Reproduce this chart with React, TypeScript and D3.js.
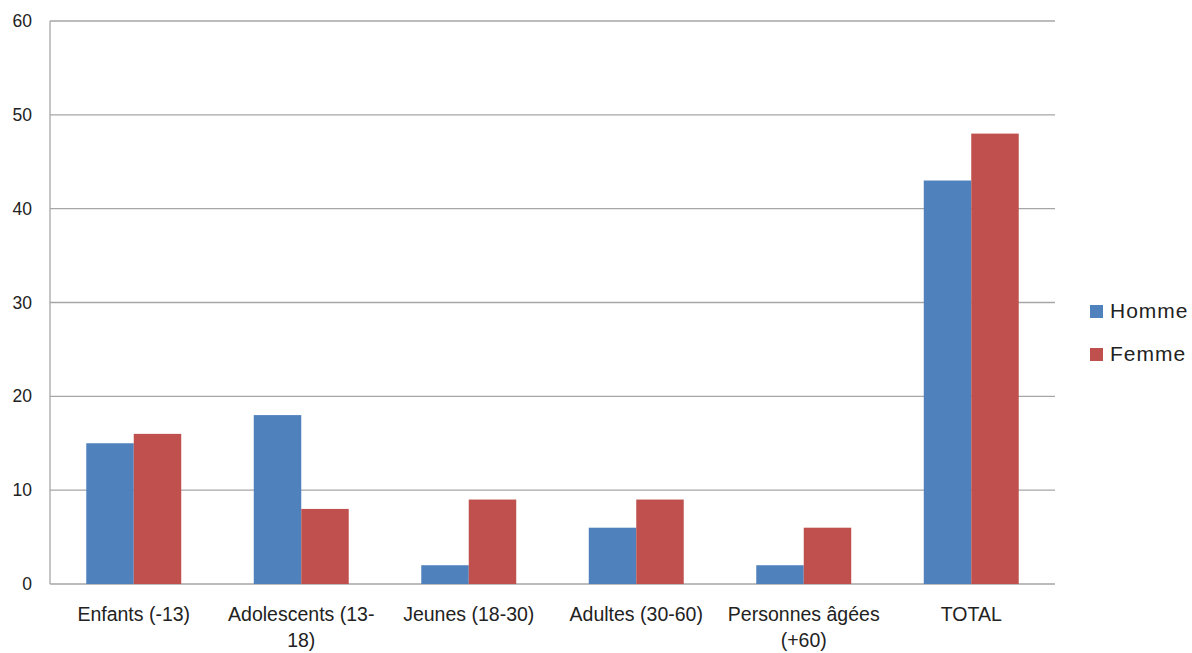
import React from "react";
import * as d3 from "d3";

// data
const categories = [
  ["Enfants (-13)"],
  ["Adolescents (13-", "18)"],
  ["Jeunes (18-30)"],
  ["Adultes (30-60)"],
  ["Personnes âgées", "(+60)"],
  ["TOTAL"],
];
const seriesNames = ["Homme", "Femme"];
const homme = [15, 18, 2, 6, 2, 43];
const femme = [16, 8, 9, 9, 6, 48];
const yTicks = [0, 10, 20, 30, 40, 50, 60];
const colors = ["#4F81BD", "#C0504D"];

const W = 1192;
const H = 653;
const plot = { left: 50, right: 1055, top: 21, bottom: 584 };
const font = "'Liberation Sans', Arial, sans-serif";

export default function App() {
  const keys = categories.map((c) => c.join(" "));
  const x = d3
    .scaleBand<string>()
    .domain(keys)
    .range([plot.left, plot.right])
    .paddingInner(0.433)
    .paddingOuter(0.2165);
  const x1 = d3.scaleBand<string>().domain(seriesNames).range([0, x.bandwidth()]);
  const y = d3.scaleLinear().domain([0, 60]).range([plot.bottom, plot.top]);
  const values = [homme, femme];

  return (
    <svg
      width={W}
      height={H}
      style={{ position: "absolute", left: 0, top: 0, background: "#fff" }}
      fontFamily={font}
    >
      {/* gridlines */}
      {yTicks.map((t) => (
        <line
          key={t}
          x1={plot.left}
          x2={plot.right}
          y1={y(t)}
          y2={y(t)}
          stroke="#a6a6a6"
          strokeWidth={1.3}
        />
      ))}
      <line x1={plot.left} x2={plot.left} y1={plot.top} y2={plot.bottom} stroke="#a6a6a6" strokeWidth={1.3} />

      {/* y tick labels */}
      {yTicks.map((t) => (
        <text key={t} x={32} y={y(t)} dy="0.35em" textAnchor="end" fontSize={17.5} fill="#222">
          {t}
        </text>
      ))}

      {/* bars */}
      {keys.map((k, i) => (
        <g key={k} transform={`translate(${x(k)},0)`}>
          {seriesNames.map((s, j) => (
            <rect
              key={s}
              x={x1(s)}
              y={y(values[j][i])}
              width={x1.bandwidth()}
              height={y(0) - y(values[j][i])}
              fill={colors[j]}
            />
          ))}
        </g>
      ))}

      {/* x labels */}
      {categories.map((lines, i) => {
        const cx = (x(keys[i]) as number) + x.bandwidth() / 2;
        return (
          <text key={i} x={cx} y={621} textAnchor="middle" fontSize={19.5} fill="#222">
            {lines.map((l, li) => (
              <tspan key={li} x={cx} dy={li === 0 ? 0 : 26}>
                {l}
              </tspan>
            ))}
          </text>
        );
      })}

      {/* legend */}
      {seriesNames.map((s, j) => (
        <g key={s} transform={`translate(1090,${305 + j * 43})`}>
          <rect width={13} height={13} fill={colors[j]} />
          <text x={20} y={13} fontSize={21} letterSpacing={1} fill="#222">
            {s}
          </text>
        </g>
      ))}
    </svg>
  );
}
